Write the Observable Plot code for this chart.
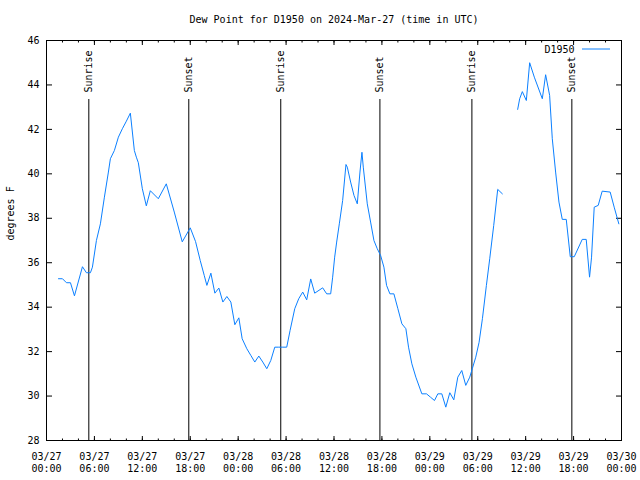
<!DOCTYPE html>
<html><head><meta charset="utf-8">
<script src="https://cdn.jsdelivr.net/npm/d3@7"></script>
<script src="https://cdn.jsdelivr.net/npm/@observablehq/plot@0.6"></script>
<style>body{margin:0;background:#fff} #chart svg{display:block}</style>
</head><body><div id="chart"></div>
<script>
const titleText = "Dew Point for D1950 on 2024-Mar-27 (time in UTC)";
const yLabel = "degrees F";
const seriesName = "D1950";

const times = [
"2024-03-27T01:30Z","2024-03-27T02:00Z","2024-03-27T02:30Z","2024-03-27T03:00Z","2024-03-27T03:30Z",
"2024-03-27T04:30Z","2024-03-27T05:00Z","2024-03-27T05:30Z","2024-03-27T05:45Z","2024-03-27T06:15Z",
"2024-03-27T06:45Z","2024-03-27T07:15Z","2024-03-27T07:45Z","2024-03-27T08:00Z","2024-03-27T08:30Z",
"2024-03-27T09:00Z","2024-03-27T09:30Z","2024-03-27T10:00Z","2024-03-27T10:30Z","2024-03-27T11:00Z",
"2024-03-27T11:15Z","2024-03-27T11:30Z","2024-03-27T12:00Z","2024-03-27T12:30Z","2024-03-27T13:00Z",
"2024-03-27T14:00Z","2024-03-27T15:00Z","2024-03-27T16:00Z","2024-03-27T17:00Z","2024-03-27T18:00Z",
"2024-03-27T18:40Z","2024-03-27T19:15Z","2024-03-27T19:45Z","2024-03-27T20:05Z","2024-03-27T20:35Z",
"2024-03-27T21:05Z","2024-03-27T21:35Z","2024-03-27T22:05Z","2024-03-27T22:35Z","2024-03-27T23:05Z",
"2024-03-27T23:35Z","2024-03-28T00:05Z","2024-03-28T00:30Z","2024-03-28T01:05Z","2024-03-28T01:35Z",
"2024-03-28T02:05Z","2024-03-28T02:35Z","2024-03-28T03:05Z","2024-03-28T03:35Z","2024-03-28T04:05Z",
"2024-03-28T04:35Z","2024-03-28T05:05Z","2024-03-28T05:35Z","2024-03-28T06:05Z","2024-03-28T06:30Z",
"2024-03-28T07:05Z","2024-03-28T07:35Z","2024-03-28T08:05Z","2024-03-28T08:35Z","2024-03-28T09:05Z",
"2024-03-28T09:35Z","2024-03-28T10:35Z","2024-03-28T11:05Z","2024-03-28T11:35Z","2024-03-28T11:50Z",
"2024-03-28T12:05Z","2024-03-28T12:20Z","2024-03-28T12:40Z","2024-03-28T13:05Z","2024-03-28T13:30Z",
"2024-03-28T13:40Z","2024-03-28T14:05Z","2024-03-28T14:30Z","2024-03-28T14:55Z","2024-03-28T15:15Z",
"2024-03-28T15:30Z","2024-03-28T15:40Z","2024-03-28T16:10Z","2024-03-28T16:35Z","2024-03-28T17:00Z",
"2024-03-28T17:25Z","2024-03-28T17:50Z","2024-03-28T18:15Z","2024-03-28T18:35Z","2024-03-28T19:00Z",
"2024-03-28T19:30Z","2024-03-28T20:00Z","2024-03-28T20:30Z","2024-03-28T21:00Z","2024-03-28T21:20Z",
"2024-03-28T21:45Z","2024-03-28T22:15Z","2024-03-28T23:00Z","2024-03-28T23:35Z","2024-03-29T00:05Z",
"2024-03-29T00:35Z","2024-03-29T01:00Z","2024-03-29T01:30Z","2024-03-29T02:00Z","2024-03-29T02:30Z",
"2024-03-29T03:00Z","2024-03-29T03:30Z","2024-03-29T04:00Z","2024-03-29T04:30Z","2024-03-29T05:00Z",
"2024-03-29T05:20Z","2024-03-29T05:45Z","2024-03-29T06:10Z","2024-03-29T06:35Z","2024-03-29T07:05Z",
"2024-03-29T07:30Z","2024-03-29T08:00Z","2024-03-29T08:30Z","2024-03-29T09:05Z","2024-03-29T10:00Z",
"2024-03-29T11:00Z","2024-03-29T11:15Z","2024-03-29T11:35Z","2024-03-29T12:05Z","2024-03-29T12:30Z",
"2024-03-29T13:05Z","2024-03-29T14:05Z","2024-03-29T14:30Z","2024-03-29T15:00Z","2024-03-29T15:20Z",
"2024-03-29T15:45Z","2024-03-29T16:10Z","2024-03-29T16:35Z","2024-03-29T17:05Z","2024-03-29T17:35Z",
"2024-03-29T18:05Z","2024-03-29T19:05Z","2024-03-29T19:35Z","2024-03-29T20:00Z","2024-03-29T20:15Z",
"2024-03-29T20:35Z","2024-03-29T21:05Z","2024-03-29T21:35Z","2024-03-29T22:35Z","2024-03-29T23:05Z",
"2024-03-29T23:40Z"
];
const dewPoint = [
35.28,35.28,35.10,35.10,34.51,
35.82,35.55,35.55,35.80,37.00,
37.75,38.95,40.08,40.68,41.05,
41.65,42.03,42.37,42.73,41.05,
40.75,40.50,39.33,38.56,39.24,
38.88,39.55,38.28,36.94,37.57,
36.95,36.10,35.43,34.98,35.53,
34.63,34.86,34.23,34.48,34.23,
33.21,33.52,32.58,32.13,31.83,
31.53,31.80,31.53,31.23,31.60,
32.20,32.20,32.20,32.20,32.95,
33.93,34.38,34.68,34.33,35.27,
34.63,34.87,34.60,34.60,35.35,
36.25,36.93,37.75,38.80,40.42,
40.30,39.63,39.03,38.65,40.08,
40.97,40.30,38.65,37.83,37.00,
36.63,36.33,35.80,34.98,34.60,
34.60,33.93,33.25,33.03,32.20,
31.45,30.85,30.10,30.10,29.95,
29.80,30.10,30.10,29.50,30.15,
29.83,30.85,31.15,30.48,30.85,
31.25,31.75,32.42,33.48,34.98,
36.18,37.68,39.30,39.10,null,
42.90,43.38,43.70,43.30,45.00,
44.35,43.38,44.46,43.53,41.58,
40.08,38.73,37.95,37.95,36.27,
36.27,37.05,37.05,35.35,36.25,
38.50,38.58,39.22,39.18,38.50,
37.75
];

const sunTimes = ["2024-03-27T05:18Z","2024-03-27T17:49Z","2024-03-28T05:20Z","2024-03-28T17:45Z","2024-03-29T05:16Z","2024-03-29T17:47Z"];
const sunLabels = ["Sunrise","Sunset","Sunrise","Sunset","Sunrise","Sunset"];

const xTickTimes = ["2024-03-27T00:00Z","2024-03-27T06:00Z","2024-03-27T12:00Z","2024-03-27T18:00Z",
"2024-03-28T00:00Z","2024-03-28T06:00Z","2024-03-28T12:00Z","2024-03-28T18:00Z",
"2024-03-29T00:00Z","2024-03-29T06:00Z","2024-03-29T12:00Z","2024-03-29T18:00Z","2024-03-30T00:00Z"];
const yTicks = [28,30,32,34,36,38,40,42,44,46];

const data = times.map((t, i) => ({t: new Date(t), v: dewPoint[i] == null ? NaN : dewPoint[i]}));
const sun = sunTimes.map((t, i) => ({t: new Date(t), label: sunLabels[i]}));
const xMajor = xTickTimes.map(t => new Date(t));
const x0 = xMajor[0], x1 = xMajor[xMajor.length - 1];
const xMinor = d3.utcHour.every(2).range(x0, new Date(+x1 + 1));
const fmt = d3.utcFormat("%m/%d\n%H:%M");
const lineColor = "#0b80ff";

const plot = Plot.plot({
  width: 640, height: 480,
  marginLeft: 46, marginRight: 19, marginTop: 40, marginBottom: 40,
  style: {fontFamily: "'DejaVu Sans Mono', monospace", fontSize: "10px", color: "black", background: "white"},
  x: {type: "utc", domain: [x0, x1]},
  y: {domain: [28, 46]},
  marks: [
    Plot.frame({stroke: "black"}),
    // inward ticks, all four sides
    Plot.axisX(xMinor, {anchor: "top", frameAnchor: "bottom", tickSize: 2.5, fill: "none", label: null}),
    Plot.axisX(xMinor, {anchor: "bottom", frameAnchor: "top", tickSize: 2.5, fill: "none", label: null}),
    Plot.axisX(xMajor, {anchor: "top", frameAnchor: "bottom", tickSize: 5, fill: "none", label: null}),
    Plot.axisX(xMajor, {anchor: "bottom", frameAnchor: "top", tickSize: 5, fill: "none", label: null}),
    Plot.axisY(yTicks, {anchor: "right", frameAnchor: "left", tickSize: 5, fill: "none", label: null}),
    Plot.axisY(yTicks, {anchor: "left", frameAnchor: "right", tickSize: 5, fill: "none", label: null}),
    // labels
    Plot.axisX(xMajor, {anchor: "bottom", tickSize: 0, tickPadding: 10, tickFormat: fmt, lineHeight: 1.27, label: null}),
    Plot.axisY(yTicks, {anchor: "left", tickSize: 0, tickPadding: 7, label: null}),
    // sunrise / sunset
    Plot.ruleX(sun, {x: "t", stroke: "black", insetTop: 59}),
    Plot.text(sun, {x: "t", text: "label", frameAnchor: "top", dy: 52, rotate: -90, textAnchor: "start", lineAnchor: "middle", fill: "black"}),
    // series
    Plot.line(data, {x: "t", y: "v", stroke: lineColor, strokeWidth: 1}),
    // title, y label, legend text
    Plot.text([titleText], {text: d => d, frameAnchor: "top", dy: -21, lineAnchor: "middle", fill: "black"}),
    Plot.text([yLabel], {text: d => d, frameAnchor: "left", dx: -36, rotate: -90, lineAnchor: "middle", fill: "black"}),
    Plot.text([seriesName], {text: d => d, frameAnchor: "top-right", dx: -47, dy: 9, textAnchor: "end", lineAnchor: "middle", fill: "black"})
  ]
});

// legend swatch
d3.select(plot).append("line")
  .attr("x1", 640 - 19 - 39).attr("x2", 640 - 19 - 11)
  .attr("y1", 40 + 9).attr("y2", 40 + 9)
  .attr("stroke", lineColor).attr("stroke-width", 1);

document.getElementById("chart").append(plot);
</script>
</body></html>
